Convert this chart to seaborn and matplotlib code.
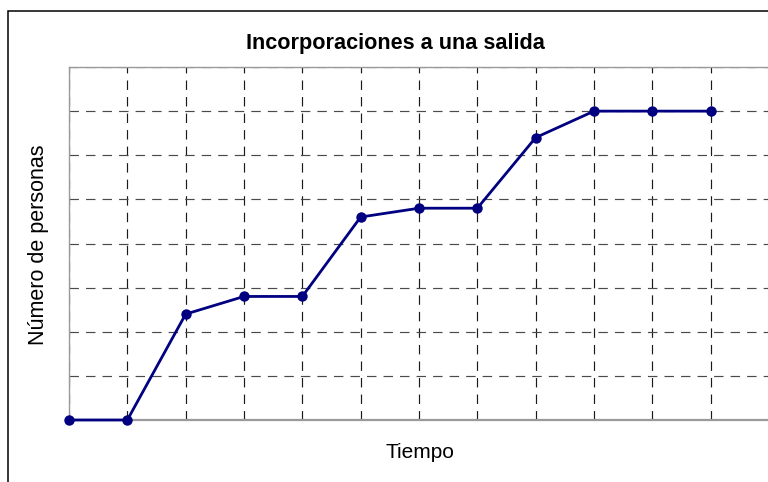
import matplotlib
matplotlib.use("Agg")
import matplotlib.pyplot as plt
from matplotlib.patches import Rectangle
import seaborn as sns
import pandas as pd

# Data: people joining an outing over time
tiempo = [0, 1, 2, 3, 4, 5, 6, 7, 8, 9, 10, 11]
personas = [0, 0, 2.4, 2.8, 2.8, 4.6, 4.8, 4.8, 6.4, 7.0, 7.0, 7.0]

titulo = "Incorporaciones a una salida"
etiqueta_x = "Tiempo"
etiqueta_y = "Número de personas"

df = pd.DataFrame({"Tiempo": tiempo, "Personas": personas})

sns.set_theme(style="white")
plt.rcParams["font.family"] = ["Liberation Sans", "DejaVu Sans"]

W, H = 768, 482
fig = plt.figure(figsize=(W / 100, H / 100), dpi=100)
fig.patch.set_facecolor("white")

# outer chart frame (only left and top edges fall inside the canvas)
fig.patches.append(Rectangle((8 / W, -0.1), 1.2, 1 - 11 / H + 0.1,
                             transform=fig.transFigure, fill=False,
                             edgecolor="black", linewidth=1.1, zorder=0))

left, right, top, bottom = 69, 769, 67, 420
ax = fig.add_axes([left / W, 1 - bottom / H, (right - left) / W, (bottom - top) / H])

sns.lineplot(data=df, x="Tiempo", y="Personas", ax=ax, color="#000080",
             linewidth=2.0, marker="o", markersize=7.5, markeredgewidth=0,
             clip_on=False, zorder=5)

ax.set_xlim(0, 12)
ax.set_ylim(0, 8)
ax.set_xticks(range(0, 13))
ax.set_yticks(range(0, 9))
ax.tick_params(length=0, labelbottom=False, labelleft=False)

ax.xaxis.grid(True, color="#1a1a1a", linewidth=0.85, linestyle=(0, (8, 6)))
ax.yaxis.grid(True, color="#4a4a4a", linewidth=0.85, linestyle=(0, (8, 6)))
ax.set_axisbelow(True)

for s in ["left", "top", "bottom", "right"]:
    ax.spines[s].set_color("#9a9a9a")
    ax.spines[s].set_linewidth(1.0)
ax.spines["bottom"].set_linewidth(1.6)

ax.set_xlabel("")
ax.set_ylabel("")

fig.text(395 / W, 1 - 43 / H, titulo, ha="center", va="center",
         fontsize=15.6, fontweight="bold", color="black")
fig.text(420 / W, 1 - 453 / H, etiqueta_x, ha="center", va="center",
         fontsize=15, color="black")
fig.text(39 / W, 1 - 245 / H, etiqueta_y, ha="center", va="center",
         fontsize=15.5, rotation=90, color="black")

fig.savefig("out.png", dpi=100, facecolor="white")
